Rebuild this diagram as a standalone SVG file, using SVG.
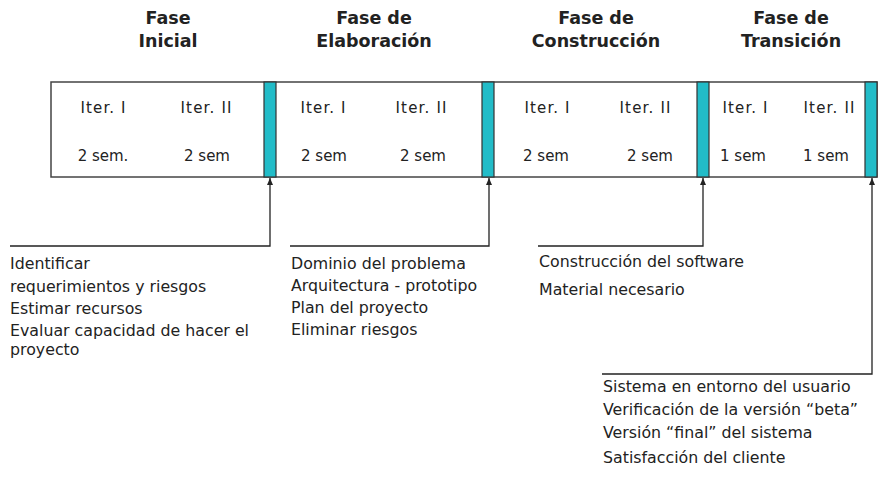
<svg xmlns="http://www.w3.org/2000/svg" width="884" height="490" viewBox="0 0 884 490">
<style>
.h{font-family:"DejaVu Sans",sans-serif;font-size:17.5px;font-weight:bold;fill:#222;text-anchor:middle}
.it{font-family:"DejaVu Sans",sans-serif;font-size:15px;fill:#222;text-anchor:middle}
.t{font-family:"DejaVu Sans",sans-serif;font-size:15.8px;fill:#222}
.bar{fill:#22BCC8;stroke:#333;stroke-width:1.2}
.ln{fill:none;stroke:#222;stroke-width:1.3}
</style>
<defs>
<marker id="ah" markerWidth="8" markerHeight="8" refX="7" refY="3" orient="auto" markerUnits="userSpaceOnUse" viewBox="0 0 8 6">
<path d="M0,0 L7,3 L0,6 Z" fill="#222"/>
</marker>
</defs>
<rect width="884" height="490" fill="#fff"/>
<g id="headings">
<text class="h" x="168" y="24">Fase</text><text class="h" x="168" y="47">Inicial</text>
<text class="h" x="374" y="24">Fase de</text><text class="h" x="374" y="47">Elaboración</text>
<text class="h" x="596" y="24">Fase de</text><text class="h" x="596" y="47">Construcción</text>
<text class="h" x="791" y="24">Fase de</text><text class="h" x="791" y="47">Transición</text>
</g>
<g id="timeline">
<rect x="51" y="82" width="826" height="95" fill="#fff" stroke="#444" stroke-width="1.5"/>
<rect class="bar" x="264" y="82" width="12" height="95"/>
<rect class="bar" x="482" y="82" width="12" height="95"/>
<rect class="bar" x="697" y="82" width="12" height="95"/>
<rect class="bar" x="865" y="82" width="12" height="95"/>
<text class="it" x="103" y="113" textLength="45">Iter. I</text><text class="it" x="206" y="113" textLength="51">Iter. II</text>
<text class="it" x="103" y="161">2 sem.</text><text class="it" x="207" y="161">2 sem</text>
<text class="it" x="323" y="113" textLength="45">Iter. I</text><text class="it" x="421" y="113" textLength="51">Iter. II</text>
<text class="it" x="324" y="161">2 sem</text><text class="it" x="423" y="161">2 sem</text>
<text class="it" x="547" y="113" textLength="45">Iter. I</text><text class="it" x="645" y="113" textLength="51">Iter. II</text>
<text class="it" x="546" y="161">2 sem</text><text class="it" x="650" y="161">2 sem</text>
<text class="it" x="745" y="113" textLength="45">Iter. I</text><text class="it" x="829" y="113" textLength="51">Iter. II</text>
<text class="it" x="743" y="161">1 sem</text><text class="it" x="826" y="161">1 sem</text>
</g>
<g id="connectors">
<polyline class="ln" points="10,246 270,246 270,178" marker-end="url(#ah)"/>
<polyline class="ln" points="290,246 489,246 489,178" marker-end="url(#ah)"/>
<polyline class="ln" points="538,246 703,246 703,178" marker-end="url(#ah)"/>
<polyline class="ln" points="602,374 872,374 872,178" marker-end="url(#ah)"/>
</g>
<g id="notes-inicial">
<text class="t" x="10" y="269">Identificar</text>
<text class="t" x="10" y="292">requerimientos y riesgos</text>
<text class="t" x="10" y="314">Estimar recursos</text>
<text class="t" x="10" y="336">Evaluar capacidad de hacer el</text>
<text class="t" x="10" y="355">proyecto</text>
</g>
<g id="notes-elaboracion">
<text class="t" x="291" y="269">Dominio del problema</text>
<text class="t" x="291" y="291">Arquitectura - prototipo</text>
<text class="t" x="291" y="313">Plan del proyecto</text>
<text class="t" x="291" y="335">Eliminar riesgos</text>
</g>
<g id="notes-construccion">
<text class="t" x="539" y="267">Construcción del software</text>
<text class="t" x="539" y="295">Material necesario</text>
</g>
<g id="notes-transicion">
<text class="t" x="603" y="392">Sistema en entorno del usuario</text>
<text class="t" x="603" y="415">Verificación de la versión “beta”</text>
<text class="t" x="603" y="438">Versión “final” del sistema</text>
<text class="t" x="603" y="463">Satisfacción del cliente</text>
</g>
</svg>
